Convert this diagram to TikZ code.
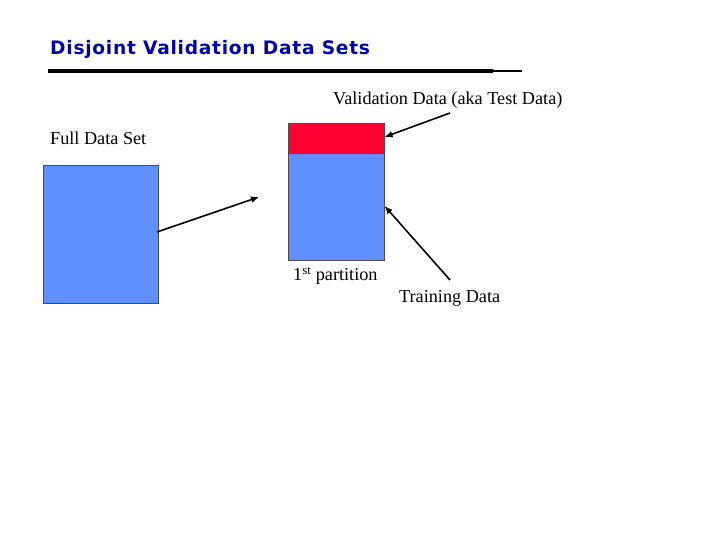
\documentclass[tikz,border=0pt]{standalone}
\usepackage{fontspec}
\setmainfont{Liberation Serif}
\newfontfamily\titlefont[LetterSpace=4]{DejaVu Sans}
\usetikzlibrary{arrows.meta}
\definecolor{titleblue}{RGB}{0,0,170}
\definecolor{boxblue}{RGB}{96,143,255}
\definecolor{boxred}{RGB}{255,0,51}
\tikzset{
  databox/.style={draw=black!70,line width=0.6pt,fill=boxblue,inner sep=0pt,anchor=north west},
  lbl/.style={inner sep=0pt,font=\fontsize{18.2}{21}\selectfont},
  arr/.style={line width=1.6pt,-{Latex[length=8pt,width=7pt]}}
}
\begin{document}
\begin{tikzpicture}[x=1pt,y=-1pt]
\useasboundingbox (0,0) rectangle (720,540);
% title
\node[anchor=west,inner sep=0pt,text=titleblue,font=\titlefont\bfseries\fontsize{18.6}{21}\selectfont] (title) at (50,49) {Disjoint Validation Data Sets};
\coordinate (r0) at (48,71);
\coordinate (r1) at (493,71);
\coordinate (r2) at (522,71);
\draw[line width=4pt] (r0) -- (r1);
\draw[line width=2pt] (r1) -- (r2);
% full data set
\node[lbl,anchor=west] (fulllbl) at (50,138) {Full Data Set};
\node[databox,minimum width=115pt,minimum height=138pt] (full) at (43,165) {};
% partition
\node[databox,fill=boxred,minimum width=96pt,minimum height=30pt] (val) at (288,123) {};
\node[databox,minimum width=96pt,minimum height=107pt] (train) at (288,153) {};
\node[lbl,anchor=west] (part) at (293,276) {1\textsuperscript{st} partition};
\node[lbl,anchor=west] (vallbl) at (333,100) {Validation Data (aka Test Data)};
\node[lbl,anchor=west] (trainlbl) at (399,298) {Training Data};
% arrows
\coordinate (a0) at (157,232);
\coordinate (a1) at (259,197);
\draw[arr] (a0) -- (a1);
\coordinate (v0) at (450,113);
\draw[arr] (v0) -- (val.east |- 0,137);
\coordinate (t0) at (450,280);
\draw[arr] (t0) -- (train.east |- 0,206);
\end{tikzpicture}
\end{document}
